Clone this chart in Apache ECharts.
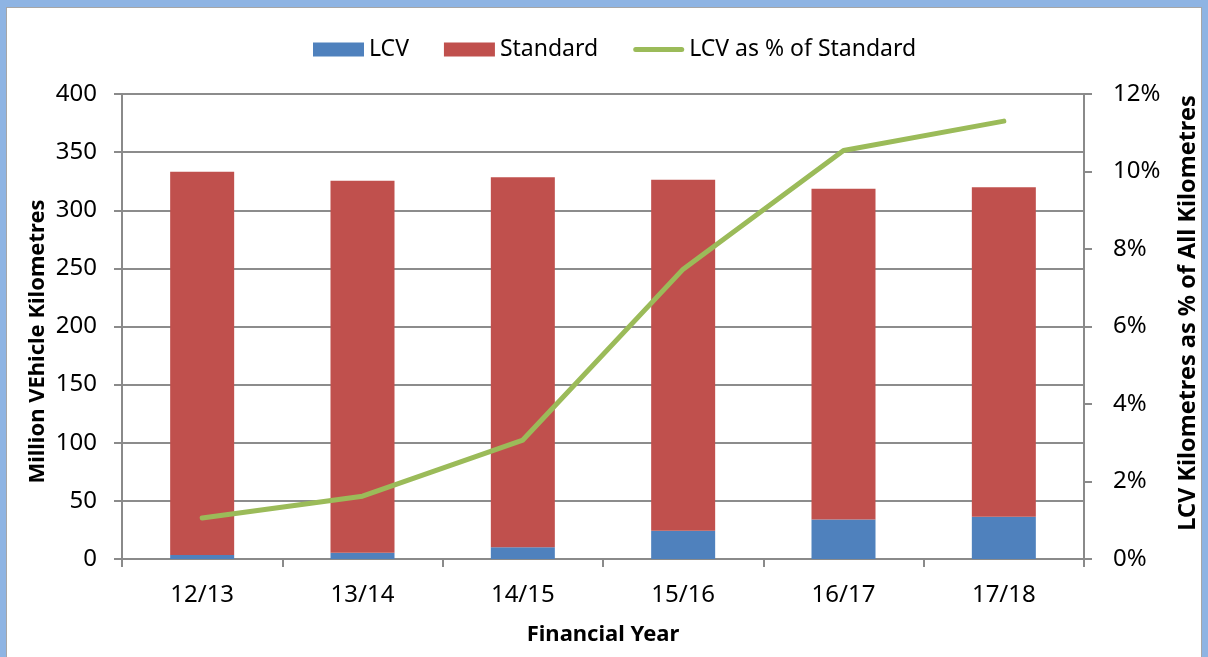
<!DOCTYPE html>
<html>
<head>
<meta charset="utf-8">
<script src="https://cdn.jsdelivr.net/npm/echarts@6/dist/echarts.min.js"></script>
<style>
  html, body { margin: 0; padding: 0; background: #8eb4e3; overflow: hidden; }
  #frame { position: absolute; left: 6px; top: 7px; width: 1194px; height: 670px;
           background: #fff; border: 1px solid #a6a6a6; }
  #chart { position: absolute; left: 0; top: 0; width: 1208px; height: 657px; }
</style>
</head>
<body>
<div id="frame"></div>
<div id="chart"></div>
<script>
// values
const years = ['12/13', '13/14', '14/15', '15/16', '16/17', '17/18'];
const lcv = [3.4, 5.3, 10.2, 24.2, 34.0, 36.3];
const standard = [329.8, 320.1, 318.1, 302.1, 284.6, 283.4];
const lcvPct = [1.06, 1.62, 3.07, 7.48, 10.54, 11.30];

const FONT = '"Noto Sans", "DejaVu Sans", sans-serif';
const AXIS_GREY = '#8a8a8a';
const LINE_ICON = 'path://M2.5,0 L48.5,0 A2.5,2.5 0 0 1 48.5,5 L2.5,5 A2.5,2.5 0 0 1 2.5,0 Z';

const chart = echarts.init(document.getElementById('chart'), null, { renderer: 'canvas' });

const option = {
  backgroundColor: 'transparent',
  animation: false,
  textStyle: { fontFamily: FONT, color: '#000' },
  legend: {
    left: 313,
    top: 38,
    padding: 0,
    itemWidth: 51,
    itemHeight: 14,
    itemGap: 35,
    textStyle: { fontSize: 23, color: '#000', fontFamily: FONT },
    data: [
      { name: 'LCV', icon: 'rect' },
      { name: 'Standard', icon: 'rect' },
      { name: 'LCV as % of Standard', icon: LINE_ICON }
    ]
  },
  grid: { left: 122, right: 122, top: 94, bottom: 98, containLabel: false },
  xAxis: {
    type: 'category',
    data: years,
    name: 'Financial Year',
    nameLocation: 'middle',
    nameGap: 65,
    nameTextStyle: { fontSize: 22, fontWeight: 'bold', color: '#000' },
    axisLine: { lineStyle: { color: AXIS_GREY, width: 2 } },
    axisTick: { show: true, inside: false, length: 8, lineStyle: { color: AXIS_GREY, width: 2 } },
    axisLabel: { fontSize: 24, color: '#000', margin: 24 }
  },
  yAxis: [
    {
      type: 'value',
      min: 0, max: 400, interval: 50,
      name: 'Million VEhicle Kilometres',
      nameLocation: 'middle',
      nameRotate: 90,
      nameGap: 73,
      nameMoveOverlap: false,
      nameTextStyle: { fontSize: 22, fontWeight: 'bold', color: '#000', padding: [0, 30, 0, 0] },
      axisLine: { show: true, lineStyle: { color: AXIS_GREY, width: 2 } },
      axisTick: { show: true, inside: false, length: 8, lineStyle: { color: AXIS_GREY, width: 2 } },
      axisLabel: { fontSize: 24, color: '#000', margin: 25 },
      splitLine: { show: true, lineStyle: { color: '#8c8c8c', width: 2 } }
    },
    {
      type: 'value',
      min: 0, max: 12, interval: 2,
      position: 'right',
      name: 'LCV Kilometres as % of All Kilometres',
      nameLocation: 'middle',
      nameRotate: 90,
      nameGap: 92,
      nameTextStyle: { fontSize: 23.5, fontWeight: 'bold', color: '#000', padding: [0, 0, 0, 27] },
      axisLine: { show: true, lineStyle: { color: AXIS_GREY, width: 2 } },
      axisTick: { show: true, inside: false, length: 8, lineStyle: { color: AXIS_GREY, width: 2 } },
      axisLabel: { fontSize: 24, color: '#000', margin: 29, formatter: '{value}%' },
      splitLine: { show: false }
    }
  ],
  series: [
    {
      name: 'LCV',
      type: 'bar',
      stack: 'km',
      barWidth: 64,
      data: lcv,
      itemStyle: { color: '#4f81bd' }
    },
    {
      name: 'Standard',
      type: 'bar',
      stack: 'km',
      barWidth: 64,
      data: standard,
      itemStyle: { color: '#c0504d' }
    },
    {
      name: 'LCV as % of Standard',
      type: 'line',
      yAxisIndex: 1,
      data: lcvPct,
      symbol: 'none',
      lineStyle: { color: '#9bbb59', width: 5, cap: 'round', join: 'round' },
      itemStyle: { color: '#9bbb59' }
    }
  ]
};

chart.setOption(option);
</script>
</body>
</html>
